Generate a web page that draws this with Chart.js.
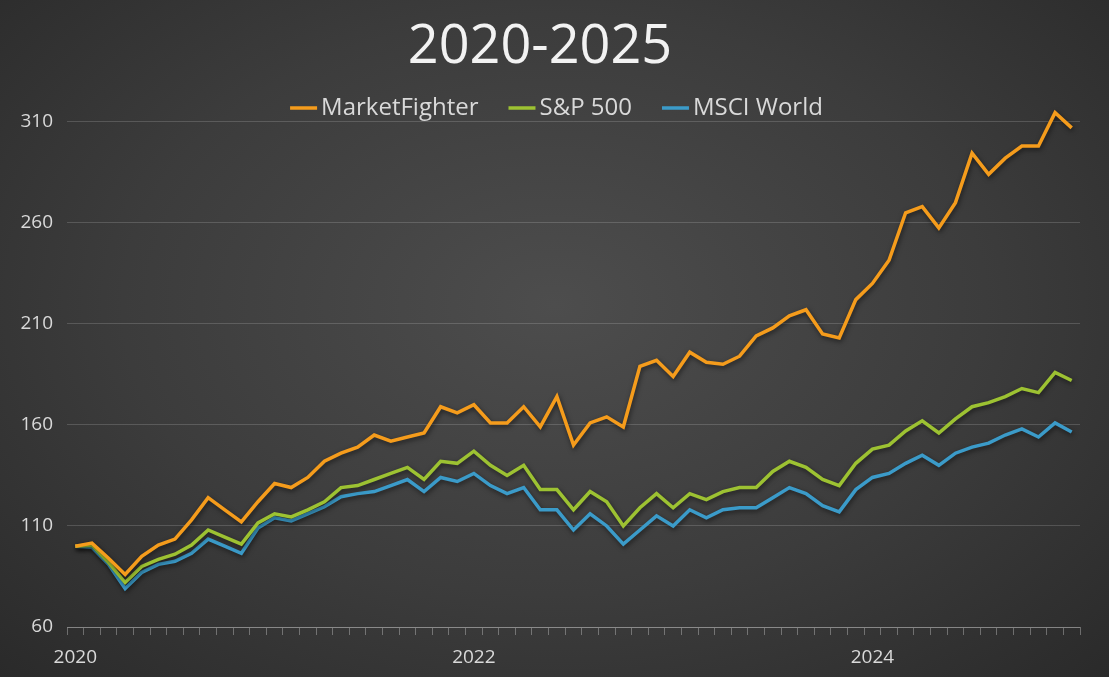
<!DOCTYPE html>
<html><head><meta charset="utf-8">
<script src="https://cdn.jsdelivr.net/npm/chart.js@4"></script>
<style>
html,body{margin:0;padding:0;}
body{width:1109px;height:677px;background:radial-gradient(ellipse at 50% 45%, #4d4d4d 0%, #3c3c3c 55%, #2a2a2a 100%);overflow:hidden;}
#c{display:block;}
</style></head><body>
<canvas id="c" width="1109" height="677"></canvas>
<script>
const years = ["2020","2022","2024"];
const marketFighter = [100,101.5,94,86,95,100.5,103.5,113,124,118,112,122,131,129,134,142,146,149,155,152,154,156,169,166,170,161,161,169,159,174,150,161,164,159,189,192,184,196,191,190,194,204,208,214,217,205,203,222,230,241.5,265,268,257.5,270,294.5,284,292,298,298,314.5,307];
const sp500 = [100,100.5,92,82,90,93.5,96,100.5,108,104.5,101,111.5,116,114.5,118,122,129,130,133,136,139,133,142,141,147,140,135,140,128,128,118,127,122,110,119,126,119,126,123,127,129,129,137,142,139,133,130,141,148,150,157,162,156,163,169,171,174,178,176,186,182];
const msciWorld = [100,99.5,91,79,87,91,92.5,96.5,103.5,100,96.5,109,114,112.5,116,119.5,124.5,126,127,130,133,127,134,132,136,130,126,129,118,118,108,116,110,101,108,115,110,118,114,118,119,119,124,129,126,120,117,128,134,136,141,145,140,146,149,151,155,158,154,161,156.5];
const yTicks = [60,110,160,210,260,310];

const toPts = a => a.map((v,i)=>({x:i,y:v}));
const font = "'Open Sans', sans-serif";
const shadow = {
  id:'shadow',
  beforeDatasetsDraw(ch){const c=ch.ctx;c.save();c.shadowColor='rgba(0,0,0,0.55)';c.shadowBlur=5;c.shadowOffsetX=1;c.shadowOffsetY=2;},
  afterDatasetsDraw(ch){ch.ctx.restore();}
};
const yearLabels = {id:'years',afterDraw(ch){
  const c=ch.ctx,xs=ch.scales.x,y=ch.chartArea.bottom;
  c.save();c.fillStyle='#d9d9d9';c.font="19px "+font;c.textAlign='center';c.textBaseline='top';
  years.forEach((t,k)=>{c.fillText(t,xs.getPixelForValue(k*24),y+21);});
  c.restore();
}};
const customLegend = {id:'customLegend',afterDraw(ch){
  const c=ch.ctx;c.save();c.font="24px "+font;c.textBaseline='middle';
  const ds=ch.data.datasets, lineW=27, gapT=4, gapI=30, y=108;
  const widths=ds.map(d=>lineW+gapT+c.measureText(d.label).width);
  const total=widths.reduce((a,b)=>a+b,0)+gapI*(ds.length-1);
  let x=(ch.width-total)/2+2;
  ds.forEach((d,k)=>{
    c.strokeStyle=d.borderColor;c.lineWidth=3.5;c.beginPath();c.moveTo(x,y);c.lineTo(x+lineW,y);c.stroke();
    c.fillStyle='#d9d9d9';c.textAlign='left';c.fillText(d.label,x+lineW+gapT,y);
    x+=widths[k]+gapI;
  });
  c.restore();
}};
const mk = (label,data,color)=>({label,data:toPts(data),borderColor:color,backgroundColor:color,borderWidth:3.5,pointRadius:0,tension:0,borderJoinStyle:'miter',clip:false});
new Chart(document.getElementById('c'),{
  type:'line',
  data:{datasets:[
    mk('MarketFighter',marketFighter,'#f59c1c'),
    mk('S&P 500',sp500,'#9dc232'),
    mk('MSCI World',msciWorld,'#3b9bc9')
  ]},
  plugins:[shadow,yearLabels,customLegend],
  options:{
    responsive:false,animation:false,
    layout:{padding:{top:15,right:29,left:0,bottom:0}},
    plugins:{
      title:{display:true,text:'2020-2025',color:'#f2f2f2',font:{family:font,size:54,weight:'500'},padding:{top:0,bottom:42}},
      legend:{display:false},
      tooltip:{enabled:false}
    },
    scales:{
      x:{type:'linear',min:-0.5,max:60.5,
        afterFit(s){s.height=50;},
        afterBuildTicks(s){s.ticks=[];for(let i=0;i<=61;i++)s.ticks.push({value:i-0.5});},
        grid:{drawOnChartArea:false,color:'rgba(255,255,255,0.3)',tickLength:8},
        border:{color:'rgba(255,255,255,0.3)'},
        ticks:{autoSkip:false,maxRotation:0,callback(){return '';}}
      },
      y:{min:60,max:310,
        afterFit(s){s.width=67;},
        afterBuildTicks(s){s.ticks=yTicks.map(v=>({value:v}));},
        grid:{color:'rgba(255,255,255,0.16)',drawTicks:false},
        border:{display:false},
        ticks:{color:'#d9d9d9',font:{family:font,size:19},padding:14}
      }
    }
  },
});
</script></body></html>
